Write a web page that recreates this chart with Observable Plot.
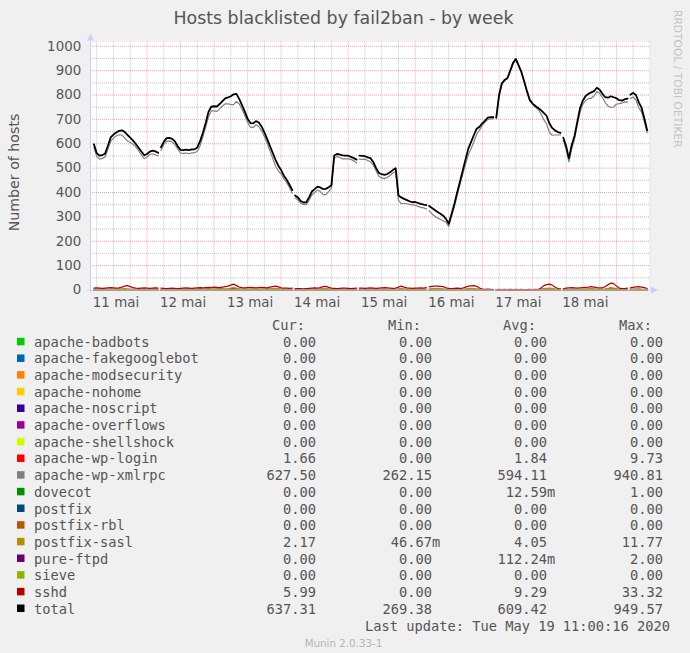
<!DOCTYPE html>
<html><head><meta charset="utf-8">
<script src="https://cdn.jsdelivr.net/npm/d3@7"></script>
<script src="https://cdn.jsdelivr.net/npm/@observablehq/plot@0.6"></script>
<style>
html,body{margin:0;padding:0;background:#f0f0f0;}
#chart{width:690px;height:653px;}
</style>
</head><body><div id="chart"></div>
<script>
// ---------- data ----------
const chartTitle = "Hosts blacklisted by fail2ban - by week";
const yAxisLabel = "Number of hosts";
const watermark = "RRDTOOL / TOBI OETIKER";
const footer = "Munin 2.0.33-1";
const lastUpdate = "Last update: Tue May 19 11:00:16 2020";
const dayLabels = ["11 mai","12 mai","13 mai","14 mai","15 mai","16 mai","17 mai","18 mai"];
const yTickValues = [0,100,200,300,400,500,600,700,800,900,1000];
const startHour = 5;   // first sample: 2020-05-11 05:00, one sample per hour
// half-hour slots with no data (hours after 2020-05-11 00:00)
const missingHours = [28.5, 76.5, 99.5, 124.5, 148.5, 172.5, 196.5];
const legendHeader = ["Cur:","Min:","Avg:","Max:"];

const seriesNames = ["apache-badbots","apache-fakegooglebot","apache-modsecurity","apache-nohome","apache-noscript","apache-overflows","apache-shellshock","apache-wp-login","apache-wp-xmlrpc","dovecot","postfix","postfix-rbl","postfix-sasl","pure-ftpd","sieve","sshd","total"];
const seriesColors = ["#00cc00","#0066b3","#ff8000","#ffcc00","#330099","#990099","#ccff00","#ff0000","#808080","#008f00","#00487d","#b35a00","#b38f00","#6b006b","#8fb300","#b30000","#000000"];
const legendCur = ["0.00","0.00","0.00","0.00","0.00","0.00","0.00","1.66","627.50","0.00","0.00","0.00","2.17","0.00","0.00","5.99","637.31"];
const legendMin = ["0.00","0.00","0.00","0.00","0.00","0.00","0.00","0.00","262.15","0.00","0.00","0.00","46.67m","0.00","0.00","0.00","269.38"];
const legendAvg = ["0.00","0.00","0.00","0.00","0.00","0.00","0.00","1.84","594.11","12.59m","0.00","0.00","4.05","112.24m","0.00","9.29","609.42"];
const legendMax = ["0.00","0.00","0.00","0.00","0.00","0.00","0.00","9.73","940.81","1.00","0.00","0.00","11.77","2.00","0.00","33.32","949.57"];

// total hosts (black line), hourly
const totalValues = [598,562,551,553,560,592,626,638,646,653,
655,649,636,625,613,599,584,568,553,558,
568,572,569,563,586,608,623,624,620,610,
590,575,574,576,574,577,577,585,611,645,
685,731,752,754,753,763,775,786,790,795,
803,805,784,759,732,703,685,684,693,687,
671,647,620,591,563,534,510,492,469,452,
432,410,388,380,365,359,360,380,404,414,
424,421,414,415,422,430,552,558,556,552,
551,551,546,541,535,551,550,549,544,541,
525,500,480,475,472,476,483,492,500,388,
380,374,369,364,360,361,357,353,350,348,
345,336,328,320,313,305,292,272,312,353,
400,444,490,536,580,608,636,662,670,684,
695,707,709,709,707,800,848,862,870,900,
932,948,922,895,856,816,780,765,755,747,
738,727,715,684,665,655,648,645,625,590,
540,595,632,690,747,778,796,805,811,816,
830,822,805,791,789,795,791,787,779,777,
783,785,801,809,800,770,748,705,655];

const sshdValues = [8,9,8,7,8,9,10,9,8,9,
12,16,18,14,10,8,7,8,9,8,
7,8,9,8,8,7,6,7,8,7,
6,7,8,9,8,7,8,9,10,9,
10,11,10,12,11,10,12,14,16,20,
24,18,12,10,9,10,11,10,9,10,
11,10,9,12,14,16,13,9,8,8,
7,8,6,6,6,5,6,7,8,9,
8,10,14,15,11,8,7,6,7,8,
8,7,6,7,8,8,8,7,8,9,
8,7,8,9,10,9,8,7,8,12,
16,12,9,8,7,8,8,9,8,10,
13,15,16,16,15,14,9,7,6,7,
8,7,8,12,16,17,18,15,8,4,
3,4,3,2,1,0,1,0,0,1,
0,0,1,0,0,1,0,0,1,2,
8,18,22,24,20,12,6,5,5,8,
9,10,9,8,9,10,11,12,14,12,
10,9,9,14,22,28,26,16,8,6,
6,8,9,11,13,14,12,10,6];

const saslValues = [4,3,4,4,5,4,3,4,4,5,
5,6,5,4,4,3,3,4,4,3,
3,4,4,3,3,4,4,3,4,5,
4,4,3,4,5,4,4,5,6,5,
5,6,5,5,6,7,6,5,6,8,
10,8,6,5,5,4,4,5,5,4,
4,5,5,6,6,7,6,5,4,3,
3,3,3,3,2,2,3,3,4,4,
4,5,6,6,5,4,3,3,3,4,
4,4,3,3,4,4,4,4,3,4,
4,3,3,4,4,3,3,4,4,5,
6,5,4,4,3,4,4,3,4,4,
5,6,6,7,6,5,4,3,3,3,
3,3,4,5,6,7,6,5,4,3,
2,2,2,2,1,1,1,0,0,1,
1,0,0,1,1,0,1,1,1,2,
4,6,7,8,7,5,4,3,3,3,
3,4,4,3,4,4,5,5,6,5,
4,4,4,5,7,9,8,6,4,3,
3,4,4,4,5,5,4,3,2];

const wploginValues = [2,1,2,2,1,2,3,2,1,2,
2,3,2,2,1,1,2,2,1,1,
2,1,1,2,1,1,2,2,1,2,
1,2,2,1,2,3,2,2,3,2,
2,3,2,2,3,3,2,3,4,6,
8,5,3,2,2,1,2,2,1,2,
2,2,3,2,3,3,2,2,1,1,
1,2,1,1,1,1,1,2,2,1,
2,2,3,3,2,1,1,1,2,2,
1,2,1,1,2,2,2,1,2,2,
1,1,2,2,1,1,2,1,2,3,
3,2,2,1,1,1,2,2,1,1,
2,3,3,2,2,2,1,1,1,2,
1,2,2,2,3,3,4,3,2,1,
1,1,2,2,2,3,2,3,2,3,
2,3,2,3,2,2,3,2,3,2,
3,4,5,4,3,2,2,1,2,2,
2,2,1,2,2,1,2,3,4,3,
2,2,2,3,5,9,6,3,2,1,
2,2,2,2,3,3,2,2,2];

// ---------- build ----------
const HOUR = 3600e3;
const t0 = Date.UTC(2020, 4, 11);
const timeAt = i => new Date(t0 + (startHour + i) * HOUR);
const zeros = totalValues.map(() => 0);
// apache-wp-xmlrpc is the total less the other active jails
const xmlrpcValues = totalValues.map((v, i) => v - sshdValues[i] - saslValues[i] - wploginValues[i]);
const valuesByName = {
  "apache-wp-login": wploginValues,
  "apache-wp-xmlrpc": xmlrpcValues,
  "postfix-sasl": saslValues,
  "sshd": sshdValues,
  "total": totalValues
};
// one row per sample, plus an empty row at each missing slot (breaks the line)
function seriesRows(name) {
  const vals = valuesByName[name] || zeros;
  const r = vals.map((v, i) => ({name, t: timeAt(i), v}));
  missingHours.forEach(h => r.push({name, t: new Date(t0 + h * HOUR), v: null}));
  return r.sort((a, b) => a.t - b.t);
}
const rows = seriesNames.slice(0, -1).flatMap(seriesRows);
const totalRows = seriesRows("total");

const xStart = new Date(t0 + 3.776 * HOUR);
const xEnd = new Date(t0 + 204.2 * HOUR);
const yTop = 1017.6;
const xMinor = d3.utcHour.every(6).range(xStart, xEnd).filter(d => d.getUTCHours() !== 0);
const xMajor = d3.utcDay.range(xStart, xEnd);
const yMinor = d3.range(50, 1001, 100);
const yMajor = d3.range(100, 1001, 100);
const xLabelTicks = dayLabels.map((_, k) => new Date(t0 + (k * 24 + 12) * HOUR));
const labelOf = d => dayLabels[Math.round((d - (t0 + 12 * HOUR)) / (24 * HOUR))];

const minorStyle = {stroke: "#8c8c8c", strokeOpacity: 0.5, strokeDasharray: "1,1"};
const majorStyle = {stroke: "#ff0000", strokeOpacity: 0.38, strokeDasharray: "1,1"};

const svg = Plot.plot({
  width: 690, height: 653,
  marginLeft: 90, marginRight: 40, marginTop: 41.5, marginBottom: 653 - 289.5,
  style: {background: "#f0f0f0", fontFamily: "'DejaVu Sans', sans-serif", fontSize: "13.4px", color: "#555", overflow: "visible"},
  x: {type: "utc", domain: [xStart, xEnd], label: null},
  y: {domain: [0, yTop], label: null},
  color: {domain: seriesNames, range: seriesColors},
  marks: [
    Plot.frame({fill: "#fff", stroke: "none"}),
    Plot.ruleY(yMinor, minorStyle),
    Plot.ruleX(xMinor, minorStyle),
    Plot.ruleY(yMajor, majorStyle),
    Plot.ruleX(xMajor, majorStyle),
    Plot.line(rows, {x: "t", y: "v", z: "name", stroke: "name", strokeWidth: 1.2}),
    Plot.line(totalRows, {x: "t", y: "v", stroke: "#000", strokeWidth: 1.8}),
    Plot.axisY(yTickValues, {tickSize: 0, tickPadding: 9.3, tickFormat: d => String(d)}),
    Plot.axisX(xLabelTicks, {tickSize: 0, tickPadding: 7.5, tickFormat: labelOf, dx: 2.5})
  ]
});
document.getElementById("chart").appendChild(svg);

// ---------- decorations: axes, arrows, titles, legend ----------
const g = d3.select(svg);
const sx = svg.scale("x"), sy = svg.scale("y");
const X0 = sx.apply(xStart), X1 = sx.apply(xEnd), Y0 = sy.apply(0), YT = sy.apply(yTop);
const axisColor = "#c8d0f6";
g.append("line").attr("x1", X0 - 3).attr("x2", X1 + 2).attr("y1", Y0 + 0.5).attr("y2", Y0 + 0.5).attr("stroke", axisColor);
g.append("line").attr("x1", X0 + 0.5).attr("x2", X0 + 0.5).attr("y1", Y0 + 3).attr("y2", YT - 1).attr("stroke", axisColor);
g.append("path").attr("d", `M${X1 + 1},${Y0 - 3} L${X1 + 8},${Y0 + 0.5} L${X1 + 1},${Y0 + 4} Z`).attr("fill", axisColor);
g.append("path").attr("d", `M${X0 - 3},${YT - 1} L${X0 + 0.5},${YT - 8} L${X0 + 4},${YT - 1} Z`).attr("fill", axisColor);

const sans = "'DejaVu Sans', sans-serif";
const mono = "'DejaVu Sans Mono', monospace";
const addText = (x, y, str, anchor, family, size, fill, transform) => {
  const t = g.append("text").attr("text-anchor", anchor).attr("font-family", family)
    .attr("font-size", size).attr("fill", fill).text(str);
  if (transform) t.attr("transform", transform); else t.attr("x", x).attr("y", y);
  return t;
};
addText(343.5, 23.7, chartTitle, "middle", sans, 17.4, "#555");
addText(0, 0, yAxisLabel, "middle", sans, 14.2, "#555", "translate(19,172.5) rotate(-90)");
addText(0, 0, watermark, "start", sans, 10.7, "#c4c4c4", "translate(673.5,10) rotate(90)");
addText(343.5, 647, footer, "middle", sans, 10.3, "#b4b4b4");

const lf = 13.7;
const colRight = [316, 432, 547, 663];
const headRight = [305, 421, 536, 652];
legendHeader.forEach((h, j) => addText(headRight[j], 330.2, h, "end", mono, lf, "#555"));
const cols = [legendCur, legendMin, legendAvg, legendMax];
seriesNames.forEach((name, i) => {
  const cy = 342.3 + 16.67 * i;
  g.append("rect").attr("x", 17).attr("y", cy - 4.5).attr("width", 7.5).attr("height", 7.5).attr("fill", seriesColors[i]);
  addText(34, cy + 4.5, name, "start", mono, lf, "#555");
  cols.forEach((col, j) => {
    const s = col[i];
    const m = s.endsWith("m");
    addText(colRight[j], cy + 4.5, m ? s.slice(0, -1) : s, "end", mono, lf, "#555");
    if (m) addText(colRight[j], cy + 4.5, "m", "start", mono, lf, "#555");
  });
});
addText(670, 631.2, lastUpdate, "end", mono, lf, "#555");
</script>
</body></html>
